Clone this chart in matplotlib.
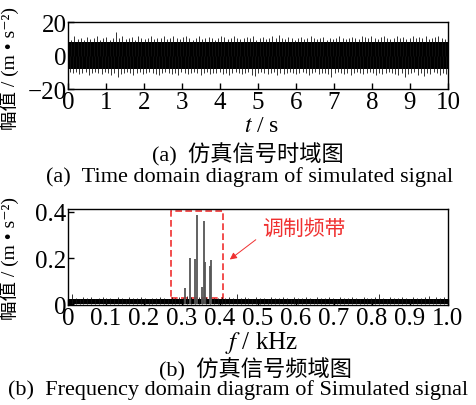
import matplotlib
matplotlib.use("Agg")
import matplotlib.pyplot as plt
from matplotlib.patches import Rectangle
import numpy as np

plt.rcParams['font.family'] = ['Liberation Serif', 'Noto Sans CJK SC', 'DejaVu Serif']
plt.rcParams['mathtext.fontset'] = 'stix'

# ---- data ----
# time signal: solid core and upper / lower peak envelope along 0..10 s
sig_core = 8.0
sig_upper = [10.5, 9.5, 11.5, 10, 10.5, 9.5, 11, 10, 10.5, 11.5, 9.5, 10.5, 11, 9.5, 10.5, 14, 10.5, 11.5, 10, 10.5,
             11, 9.5, 11.5, 10.5, 10, 10.5, 11.5, 10, 10.5, 10.5, 12, 10, 10.5, 11.5, 10.5, 10, 11, 11.5, 10.5, 9.5,
             10.5, 11.5, 10, 10.5, 11, 10.5, 9.5, 10.5, 11.5, 11, 10, 10.5, 11.5, 10.5, 10, 10.5, 11, 10.5, 11.5, 9.5,
             10.5, 11, 10, 10.5, 11.5, 10.5, 12.5, 10.5, 10, 11, 10.5, 9.5, 10.5, 11, 10, 10.5, 11.5, 10.5, 10, 10.5,
             11, 9.5, 10.5, 10, 10.5, 11.5, 10.5, 10, 10.5, 11, 10.5, 10, 11.5, 11, 10.5, 12, 10.5, 10, 11, 11.5,
             10.5, 10, 10.5, 12, 10.5, 11, 10, 10.5, 11.5, 10.5, 11, 10.5, 11.5, 10, 10.5, 11, 11.5, 10.5, 10, 11]
sig_lower = [-10, -10.5, -9.5, -11, -10.5, -10, -11.5, -10.5, -10, -10.5, -11, -9.5, -10.5, -11.5, -10.5, -12.5, -11, -10.5, -10, -10.5,
             -11.5, -10.5, -10, -11, -10.5, -9.5, -10.5, -11, -11.5, -10.5, -10, -10.5, -11, -10.5, -11.5, -10, -10.5, -11, -10.5, -10,
             -10.5, -11.5, -10.5, -10, -11, -10.5, -10.5, -10, -11, -10.5, -11.5, -10.5, -10, -10.5, -11, -10.5, -10, -11.5, -12, -10.5,
             -10, -10.5, -11, -10.5, -10, -11.5, -10.5, -11, -10.5, -10, -10.5, -11, -10.5, -10, -10.5, -11.5, -10.5, -10, -11, -10.5,
             -10.5, -11, -13, -10.5, -10, -10.5, -11, -10.5, -11.5, -10.5, -10, -10.5, -11, -10.5, -10, -10.5, -11.5, -10.5, -11, -10.5,
             -10, -10.5, -11, -11.5, -10.5, -13, -11, -10.5, -10, -11.5, -10.5, -12, -10.5, -11, -10, -10.5, -11.5, -10.5, -11, -10.5]
t_end = 10.0

# spectrum: solid floor and upper edge of noise floor along 0..1 kHz
floor_core = 0.024
floor_upper = [0.03, 0.045, 0.028, 0.025, 0.03, 0.027, 0.032, 0.025, 0.028, 0.03, 0.026, 0.029, 0.025, 0.03, 0.027,
               0.025, 0.031, 0.028, 0.026, 0.03, 0.027, 0.025, 0.029, 0.026, 0.03, 0.028, 0.025, 0.033, 0.027, 0.03,
               0.028, 0.035, 0.03, 0.028, 0.03, 0.027, 0.03, 0.026, 0.029, 0.028, 0.03, 0.026, 0.03, 0.028, 0.045,
               0.027, 0.03, 0.028, 0.025, 0.03, 0.027, 0.029, 0.025, 0.03, 0.028, 0.026, 0.031, 0.027, 0.025, 0.03,
               0.028, 0.026, 0.03, 0.027, 0.025, 0.03, 0.028, 0.026, 0.032, 0.027, 0.025, 0.03, 0.028, 0.026, 0.03,
               0.027, 0.025, 0.03, 0.028, 0.026, 0.03, 0.044, 0.027, 0.025, 0.03, 0.028, 0.026, 0.031, 0.027, 0.025,
               0.03, 0.028, 0.026, 0.03, 0.036, 0.025, 0.03, 0.028, 0.032, 0.03]
f_end = 1.0

# modulation band peaks
peak_freq = [0.307, 0.320, 0.335, 0.340, 0.352, 0.357, 0.361, 0.373, 0.377]
peak_amp = [0.07, 0.20, 0.195, 0.385, 0.075, 0.36, 0.185, 0.165, 0.19]

band_lo, band_hi = 0.27, 0.408
band_top, band_bottom = 0.403, 0.029

ylab = '幅值 / (m • s⁻²)'
red = '#f03030'

fig = plt.figure(figsize=(4.76, 4.06), dpi=100)

# ---- (a) time domain ----
ax1 = fig.add_axes([0.143, 0.778, 0.798, 0.165])
n = len(sig_upper)
t_up = np.linspace(0, t_end, n)
t_lo = t_up + t_end / n / 2
ax1.fill_between([0, t_end], -sig_core, sig_core, color='black', lw=0)
ax1.vlines(t_up, 0, sig_upper, color='#111111', lw=0.6)
ax1.vlines(t_lo, sig_lower, 0, color='#111111', lw=0.6)
ax1.set_xlim(0, 10)
ax1.set_ylim(-20, 20)
ax1.set_xticks(range(0, 11))
ax1.set_yticks([-20, 0, 20])
ax1.set_yticklabels(['\u221220', '0', '20'])
ax1.tick_params(direction='in', length=4, width=1, labelsize=18, pad=1)
ax1.set_ylabel(ylab, fontsize=14, labelpad=0)
ax1.yaxis.set_label_coords(-0.13, 0.33)
fig.text(0.55, 1 - 127 / 406, '$t$ / s', ha='center', va='center', fontsize=17)
fig.text(0.52, 1 - 155 / 406, '(a)  仿真信号时域图', ha='center', va='center', fontsize=16)
fig.text(0.525, 1 - 177 / 406, '(a)  Time domain diagram of simulated signal', ha='center', va='center', fontsize=16)

# ---- (b) frequency domain ----
ax2 = fig.add_axes([0.143, 0.246, 0.798, 0.237])
m = len(floor_upper)
f_up = np.linspace(0, f_end, m)
ax2.fill_between([0, f_end], 0, floor_core, color='black', lw=0)
ax2.vlines(f_up, 0, floor_upper, color='#111111', lw=0.6)
ax2.vlines(peak_freq, 0, peak_amp, color='#555555', lw=1.3)
ax2.add_patch(Rectangle((band_lo, band_bottom), band_hi - band_lo, band_top - band_bottom,
                        fill=False, edgecolor=red, lw=1.2, ls=(0, (4, 2))))
ax2.annotate('', xy=(0.42, 0.187), xytext=(0.50, 0.287),
             arrowprops=dict(arrowstyle='-|>', color=red, lw=0.7, mutation_scale=10))
ax2.text(0.62, 0.327, '调制频带', color=red, fontsize=15, ha='center', va='center')
ax2.set_xlim(0, 1.0)
ax2.set_ylim(-0.003, 0.413)
ax2.set_xticks(np.arange(0, 1.01, 0.1))
ax2.set_xticklabels(['0'] + ['%.1f' % v for v in np.arange(0.1, 1.01, 0.1)])
ax2.set_yticks([0, 0.2, 0.4])
ax2.set_yticklabels(['0', '0.2', '0.4'])
ax2.tick_params(direction='in', length=4, width=1, labelsize=18, pad=1)
ax2.set_ylabel(ylab, fontsize=14, labelpad=0)
ax2.yaxis.set_label_coords(-0.13, 0.5)
fig.text(0.55, 1 - 343 / 406, '$f$ / kHz', ha='center', va='center', fontsize=18)
fig.text(0.536, 1 - 370 / 406, '(b)  仿真信号频域图', ha='center', va='center', fontsize=16)
fig.text(0.5, 1 - 390 / 406, '(b)  Frequency domain diagram of Simulated signal', ha='center', va='center', fontsize=16)

for ax in (ax1, ax2):
    for s in ax.spines.values():
        s.set_linewidth(1.0)

fig.savefig('out.png', dpi=100)
